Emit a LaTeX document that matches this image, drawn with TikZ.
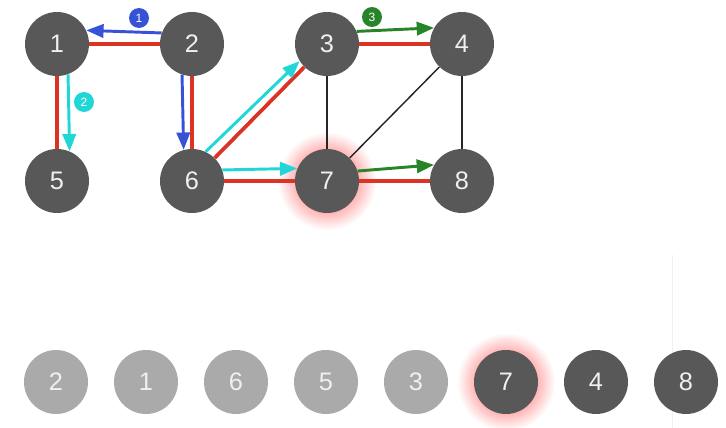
\documentclass[tikz,border=0pt]{standalone}
\usepackage{fontspec}
\setmainfont{Liberation Sans}
\usetikzlibrary{arrows.meta,backgrounds}
\definecolor{nodegray}{RGB}{88,88,88}
\definecolor{fadedgray}{RGB}{170,170,170}
\definecolor{edgered}{RGB}{219,52,36}
\definecolor{stepblue}{RGB}{55,82,214}
\definecolor{stepcyan}{RGB}{32,214,214}
\definecolor{stepgreen}{RGB}{40,132,40}
\pgfdeclareradialshading{glow}{\pgfpoint{0bp}{0bp}}{color(0bp)=(red!32); color(15bp)=(red!32); color(25bp)=(white); color(50bp)=(white)}
\begin{document}
\begin{tikzpicture}[x=0.75pt,y=-0.75pt,
  vertex/.style={circle,fill=nodegray,minimum size=48pt,inner sep=0pt,text=white!94!black,font=\fontsize{19}{19}\selectfont},
  done/.style={vertex,fill=fadedgray},
  tree/.style={edgered,line width=2.8pt},
  plain/.style={black!85,line width=1.1pt},
  visit/.style={line width=2.2pt,-{Triangle[length=13pt,width=10pt]}},
  tag/.style={circle,minimum size=15pt,inner sep=0pt,text=white,font=\fontsize{9}{9}\selectfont}]
\useasboundingbox (0,0) rectangle (726,428);
\node[vertex] (n1) at (57,44) {1};
\node[vertex] (n2) at (192,44) {2};
\node[vertex] (n3) at (327,44) {3};
\node[vertex] (n4) at (462,44) {4};
\node[vertex] (n5) at (57,181) {5};
\node[vertex] (n6) at (192,181) {6};
\node[vertex] (n7) at (327,181) {7};
\node[vertex] (n8) at (462,181) {8};
\foreach \lab/\x/\st in {2/56/done,1/146/done,6/236/done,5/326/done,3/416/done,7/506/vertex,4/596/vertex,8/686/vertex}
  \node[\st] (q\lab) at (\x,382) {\lab};
\begin{scope}[on background layer]
\draw[gray!12,line width=0.6pt] (672,255) -- (672,428);
\shade[shading=glow] (n7) circle (37pt);
\shade[shading=glow] (q7) circle (37pt);
\end{scope}
\foreach \a/\b in {n1/n2,n1/n5,n2/n6,n6/n3,n6/n7,n3/n4,n7/n8}
  \draw[tree] (\a) -- (\b);
\foreach \a/\b in {n3/n7,n4/n7,n4/n8}
  \draw[plain] (\a) -- (\b);
\draw[visit,stepblue] (n2.160) -- (n1.25);
\draw[visit,stepblue] (n2.252) -- (n6.105);
\draw[visit,stepcyan] (n1.290) -- (n5.67);
\draw[visit,stepcyan] (n6.65) -- (n3.212);
\draw[visit,stepcyan] (n6.20) -- (n7.157);
\draw[visit,stepgreen] (n3.23) -- (n4.150);
\draw[visit,stepgreen] (n7.18) -- (n8.150);
\node[tag,fill=stepblue] (t1) at (139,18) {1};
\node[tag,fill=stepcyan] (t2) at (84,102) {2};
\node[tag,fill=stepgreen] (t3) at (372,17) {3};
\end{tikzpicture}
\end{document}
